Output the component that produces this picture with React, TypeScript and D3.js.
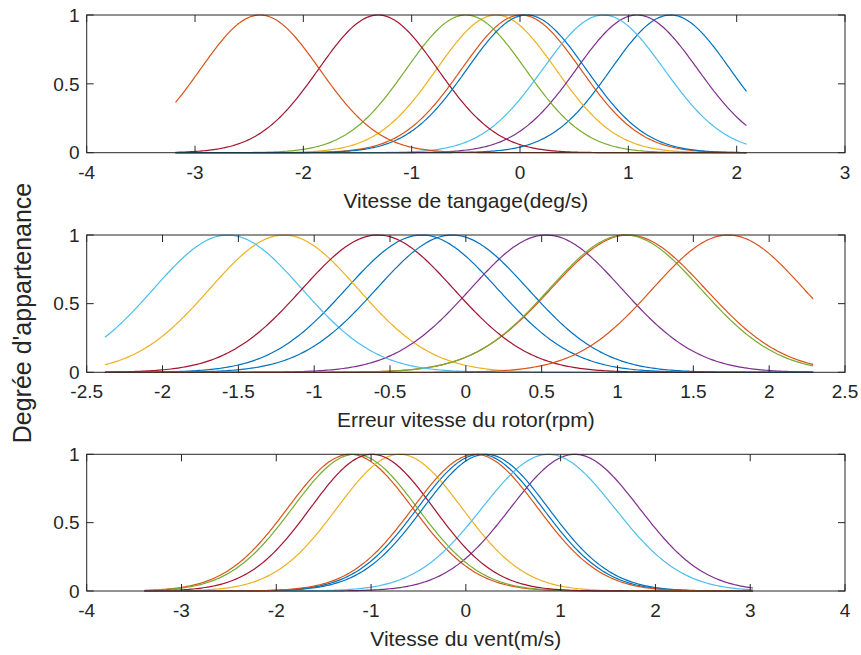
import React from "react";
import * as d3 from "d3";

// MATLAB default colour order
const colorOrder = ["#0072BD", "#D95319", "#EDB120", "#7E2F8E", "#77AC30", "#4DBEEE", "#A2142F", "#0072BD", "#D95319"];

// Panel 1: Vitesse de tangage
const xLabel1 = "Vitesse de tangage(deg/s)";
const xTicks1 = [-4, -3, -2, -1, 0, 1, 2, 3];
const range1 = [-3.18, 2.09];
const centers1 = [1.39, 0.01, -0.22, 1.08, -0.5, 0.77, -1.31, 0.06, -2.4];
const sigmas1 = [0.55, 0.55, 0.55, 0.56, 0.55, 0.56, 0.55, 0.55, 0.55];

// Panel 2: Erreur vitesse du rotor
const xLabel2 = "Erreur vitesse du rotor(rpm)";
const xTicks2 = [-2.5, -2, -1.5, -1, -0.5, 0, 0.5, 1, 1.5, 2, 2.5];
const range2 = [-2.38, 2.29];
const centers2 = [-0.29, 1.07, -1.2, 0.53, 1.05, -1.57, -0.58, -0.09, 1.73];
const sigmas2 = [0.5, 0.51, 0.49, 0.5, 0.5, 0.49, 0.5, 0.5, 0.5];

// Panel 3: Vitesse du vent
const xLabel3 = "Vitesse du vent(m/s)";
const xTicks3 = [-4, -3, -2, -1, 0, 1, 2, 3, 4];
const range3 = [-3.39, 3.03];
const centers3 = [0.15, -1.22, -0.7, 1.15, -1.17, 0.87, -0.99, 0.21, 0.1];
const sigmas3 = [0.66, 0.66, 0.66, 0.68, 0.66, 0.7, 0.65, 0.66, 0.66];

const yTicks = [0, 0.5, 1];
const yLabel = "Degrée d'appartenance";

const W = 861;
const H = 655;
const LEFT = 86.7;
const RIGHT = 845;
const FONT = "'Liberation Sans', Arial, Helvetica, sans-serif";
const AX = "#262626";

type Panel = {
  label: string;
  ticks: number[];
  range: number[];
  centers: number[];
  sigmas: number[];
  top: number;
  bottom: number;
};

const panels: Panel[] = [
  { label: xLabel1, ticks: xTicks1, range: range1, centers: centers1, sigmas: sigmas1, top: 15, bottom: 152.7 },
  { label: xLabel2, ticks: xTicks2, range: range2, centers: centers2, sigmas: sigmas2, top: 235, bottom: 372.3 },
  { label: xLabel3, ticks: xTicks3, range: range3, centers: centers3, sigmas: sigmas3, top: 454.3, bottom: 591 },
];

function PanelView({ p }: { p: Panel }) {
  const x = d3.scaleLinear().domain([p.ticks[0], p.ticks[p.ticks.length - 1]]).range([LEFT, RIGHT]);
  const y = d3.scaleLinear().domain([0, 1]).range([p.bottom, p.top]);
  const xs = d3.range(0, 301).map((i) => p.range[0] + ((p.range[1] - p.range[0]) * i) / 300);
  const line = d3
    .line<[number, number]>()
    .x((d) => x(d[0]))
    .y((d) => y(d[1]));
  const tl = 7;
  return (
    <g>
      {p.centers.map((c, i) => {
        const s = p.sigmas[i];
        const pts: [number, number][] = xs.map((v) => [v, Math.exp(-((v - c) * (v - c)) / (2 * s * s))]);
        return <path key={i} d={line(pts) || ""} fill="none" stroke={colorOrder[i]} strokeWidth={1.2} />;
      })}
      <rect x={LEFT} y={p.top} width={RIGHT - LEFT} height={p.bottom - p.top} fill="none" stroke={AX} strokeWidth={1} />
      {p.ticks.map((t) => (
        <g key={"x" + t}>
          <line x1={x(t)} x2={x(t)} y1={p.bottom} y2={p.bottom - tl} stroke={AX} strokeWidth={1} />
          <line x1={x(t)} x2={x(t)} y1={p.top} y2={p.top + tl} stroke={AX} strokeWidth={1} />
          <text x={x(t)} y={p.bottom + 26} textAnchor="middle" fontSize={19} fill={AX} fontFamily={FONT}>
            {String(t)}
          </text>
        </g>
      ))}
      {yTicks.map((t) => (
        <g key={"y" + t}>
          <line x1={LEFT} x2={LEFT + tl} y1={y(t)} y2={y(t)} stroke={AX} strokeWidth={1} />
          <line x1={RIGHT} x2={RIGHT - tl} y1={y(t)} y2={y(t)} stroke={AX} strokeWidth={1} />
          <text x={LEFT - 7} y={y(t)} dy="0.35em" textAnchor="end" fontSize={19} fill={AX} fontFamily={FONT}>
            {String(t)}
          </text>
        </g>
      ))}
      <text x={(LEFT + RIGHT) / 2} y={p.bottom + 55} textAnchor="middle" fontSize={21} fill={AX} fontFamily={FONT}>
        {p.label}
      </text>
    </g>
  );
}

export default function App() {
  return (
    <svg
      width={W}
      height={H}
      viewBox={`0 0 ${W} ${H}`}
      style={{ position: "fixed", left: 0, top: 0, background: "#ffffff" }}
    >
      <rect x={0} y={0} width={W} height={H} fill="#ffffff" />
      {panels.map((p, i) => (
        <PanelView key={i} p={p} />
      ))}
      <text
        transform={`translate(31, 313) rotate(-90)`}
        textAnchor="middle"
        fontSize={25}
        fill={AX}
        fontFamily={FONT}
      >
        {yLabel}
      </text>
    </svg>
  );
}
